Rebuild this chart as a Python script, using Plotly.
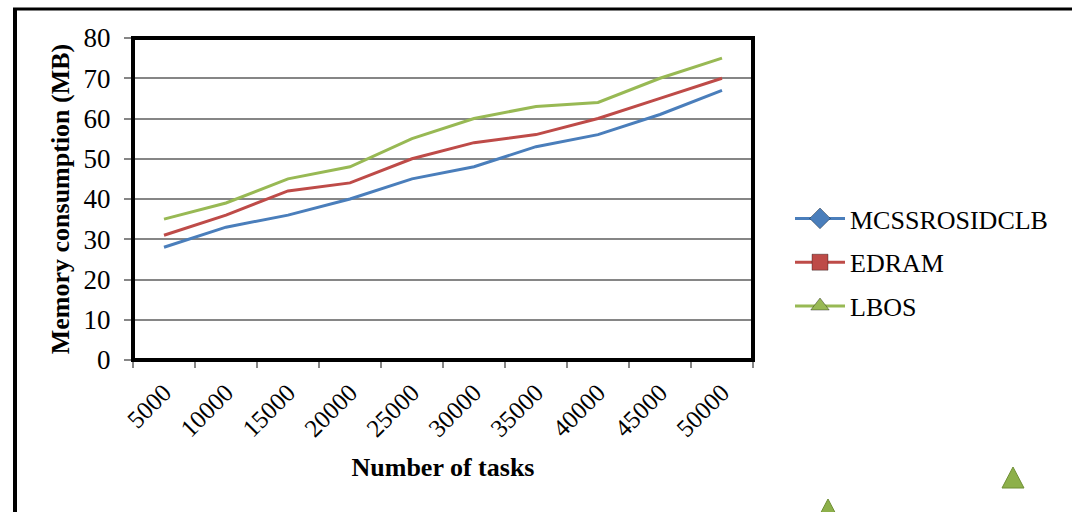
import plotly.graph_objects as go

categories = ["5000", "10000", "15000", "20000", "25000", "30000", "35000", "40000", "45000", "50000"]
mcss = [28, 33, 36, 40, 45, 48, 53, 56, 61, 67]
edram = [31, 36, 42, 44, 50, 54, 56, 60, 65, 70]
lbos = [35, 39, 45, 48, 55, 60, 63, 64, 70, 75]
series_names = ["MCSSROSIDCLB", "EDRAM", "LBOS"]
y_ticks = [0, 10, 20, 30, 40, 50, 60, 70, 80]

colors = ["#4A7EBB", "#BE4B48", "#98B954"]
symbols = ["diamond", "square", "triangle-up"]
FONT = "Liberation Serif, Times New Roman, serif"

fig = go.Figure()
for name, vals, c in zip(series_names, [mcss, edram, lbos], colors):
    fig.add_trace(go.Scatter(x=categories, y=vals, mode="lines", name=name,
                             line=dict(color=c, width=3), showlegend=False))
for i, (name, c, s) in enumerate(zip(series_names, colors, symbols)):
    fig.add_trace(go.Scatter(x=[None], y=[None], mode="lines+markers", name=name,
                             legendgroup=f"g{i}",
                             line=dict(color=c, width=3),
                             marker=dict(symbol=s, size=16, color=c,
                                         line=dict(color="rgba(0,0,0,0.35)", width=1))))

L, T, R, B = 133, 38, 753, 360
W, H = 1072, 512
pw, ph = R - L, B - T

def px(x):
    return (x - L) / pw

def py(y):
    return (B - y) / ph

shapes = [
    # plot area border
    dict(type="rect", xref="paper", yref="paper", x0=0, y0=0, x1=1, y1=1,
         line=dict(color="black", width=4), layer="above"),
    # outer chart border (left and top)
    dict(type="line", xref="paper", yref="paper", x0=px(15), y0=py(8), x1=px(15), y1=py(520),
         line=dict(color="black", width=4)),
    dict(type="line", xref="paper", yref="paper", x0=px(13), y0=py(9), x1=px(1080), y1=py(9),
         line=dict(color="black", width=3)),
]
# stray legend-marker artifacts near the bottom
for cx, cy in [(1013, 478), (828, 510)]:
    path = f"M {px(cx-11)} {py(cy+10)} L {px(cx)} {py(cy-11)} L {px(cx+11)} {py(cy+10)} Z"
    shapes.append(dict(type="path", xref="paper", yref="paper", path=path,
                       fillcolor="#8DB04A", line=dict(color="#6F8F35", width=1)))

fig.update_layout(
    width=W, height=H,
    margin=dict(l=L, r=W - R, t=T, b=H - B),
    paper_bgcolor="white", plot_bgcolor="white",
    font=dict(family=FONT, size=26, color="black"),
    shapes=shapes,
    xaxis=dict(
        type="category", tickangle=-45, tickson="boundaries",
        range=[-0.5, len(categories) - 0.5],
        ticks="outside", ticklen=6, tickcolor="#868686", tickwidth=2,
        ticklabelstandoff=6,
        showline=True, linecolor="#868686", linewidth=2,
        showgrid=False, zeroline=False,
        tickfont=dict(family=FONT, size=25),
        title=dict(text="<b>Number of tasks</b>", font=dict(family=FONT, size=26), standoff=17),
    ),
    yaxis=dict(
        range=[0, 80], tickvals=y_ticks,
        ticks="outside", ticklen=7, tickcolor="#868686", tickwidth=2,
        ticklabelstandoff=8,
        showline=True, linecolor="#868686", linewidth=2,
        showgrid=True, gridcolor="#868686", gridwidth=1.5, zeroline=False,
        tickfont=dict(family=FONT, size=27),
        title=dict(text="<b>Memory consumption (MB)</b>", font=dict(family=FONT, size=26), standoff=6),
    ),
    legend=dict(
        x=px(790), xanchor="left", y=py(195), yanchor="top",
        font=dict(family=FONT, size=26), tracegroupgap=7,
        bgcolor="rgba(0,0,0,0)", itemwidth=50,
    ),
)

fig.write_html("out.html", config={"displayModeBar": False},
               post_script="document.body.style.margin='0';")
